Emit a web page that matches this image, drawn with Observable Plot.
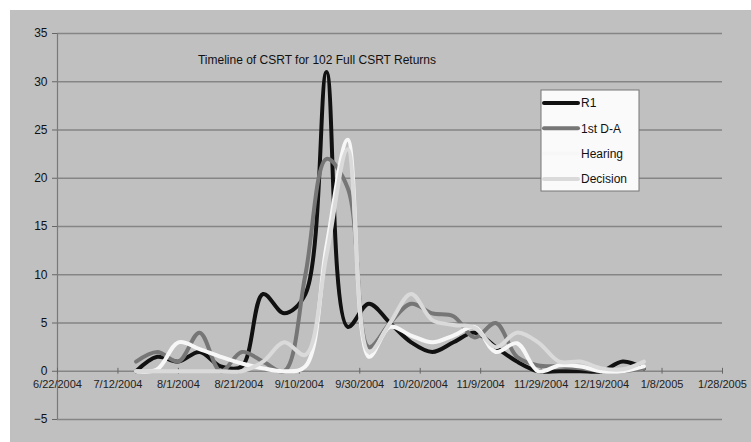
<!DOCTYPE html>
<html><head><meta charset="utf-8">
<script src="https://cdn.jsdelivr.net/npm/d3@7"></script>
<script src="https://cdn.jsdelivr.net/npm/@observablehq/plot@0.6"></script>
<style>
html,body{margin:0;padding:0;background:#fff;}
#chart{position:relative;width:751px;height:442px;}
svg{display:block;}
</style></head><body><div id="chart"></div>
<script>
const weeks = ["7/18/2004","7/25/2004","8/1/2004","8/8/2004","8/15/2004","8/22/2004","8/29/2004","9/5/2004","9/12/2004","9/19/2004","9/26/2004","10/3/2004","10/10/2004","10/17/2004","10/24/2004","10/31/2004","11/7/2004","11/14/2004","11/21/2004","11/28/2004","12/5/2004","12/12/2004","12/19/2004","12/26/2004","1/2/2005"];
const r1       = [0, 1.5, 1, 2, 0.5, 0.5, 8, 6, 8, 31, 4.6, 7, 5, 3, 2, 3, 4, 2.5, 1, 0, 0, 0, 0, 1, 0.3];
const firstDA  = [1, 2, 1, 4, 0, 2, 1, 0, 10, 22, 19, 2.5, 5, 7, 6, 5.7, 3.5, 5, 1.5, 0.6, 0.5, 0.3, 0, 0, 0.3];
const hearing  = [0, 0.2, 3, 2.3, 1.5, 0.8, 0.3, 0, 0.5, 13, 24, 1.5, 4.6, 3.7, 3, 3.7, 4.6, 2, 2.9, 0, 0.6, 0.5, 0, 0, 0.5];
const decision = [0, 0, 0, 0, 0, 0, 1, 3, 1.7, 12, 23, 2, 5, 8, 5.3, 4.8, 4.5, 2.5, 4, 3, 1, 1, 0.3, 0.2, 1];
const seriesNames = ["R1", "1st D-A", "Hearing", "Decision"];
const seriesColors = ["#111111", "#767676", "#f7f7f7", "#dadada"];
const xTickLabels = ["6/22/2004","7/12/2004","8/1/2004","8/21/2004","9/10/2004","9/30/2004","10/20/2004","11/9/2004","11/29/2004","12/19/2004","1/8/2005","1/28/2005"];
const yTicks = [-5, 0, 5, 10, 15, 20, 25, 30, 35];
const title = "Timeline of CSRT for 102 Full CSRT Returns";

const parse = d3.utcParse("%m/%d/%Y");
const fmt = d3.utcFormat("%-m/%-d/%Y");
const seriesValues = [r1, firstDA, hearing, decision];
const data = [];
seriesNames.forEach((name, i) => {
  weeks.forEach((w, j) => data.push({series: name, date: parse(w), value: seriesValues[i][j]}));
});
const xTicks = xTickLabels.map(parse);

const plot = Plot.plot({
  width: 751,
  height: 442,
  marginLeft: 57,
  marginRight: 29,
  marginTop: 33,
  marginBottom: 23,
  style: {background: "transparent", fontFamily: "'Liberation Sans', Arial, sans-serif", color: "#111"},
  x: {type: "utc", domain: [xTicks[0], xTicks[xTicks.length - 1]], axis: null},
  y: {domain: [-5, 35]},
  color: {domain: seriesNames, range: seriesColors},
  marks: [
    Plot.ruleY(yTicks, {stroke: "#858585", strokeWidth: 1.4}),
    Plot.ruleX([xTicks[0]], {y1: -5, y2: 35, stroke: "#7a7a7a", strokeWidth: 1.2}),
    Plot.axisY({ticks: yTicks, tickSize: 5, tickPadding: 5, fontSize: 12, label: null, stroke: "#666"}),
    Plot.ruleX(xTicks, {y1: -0.3, y2: 0.3, stroke: "#666"}),
    Plot.text(xTicks, {x: d => d, y: 0, dy: 13, text: d => fmt(d), fontSize: 11, fill: "#222"}),
    Plot.line(data, {x: "date", y: "value", z: "series", stroke: "series", strokeWidth: 4, curve: "catmull-rom", strokeLinejoin: "round", strokeLinecap: "round"}),
    Plot.text([title], {frameAnchor: "top", dx: -73, dy: 22, fontSize: 12, fill: "#111"})
  ]
});

const svg = d3.select(plot);
svg.insert("rect", ":first-child")
  .attr("x", 10).attr("y", 10).attr("width", 741).attr("height", 432)
  .attr("fill", "#c0c0c0");

// legend
const lg = svg.append("g")
  .attr("font-family", "'Liberation Sans', Arial, sans-serif")
  .attr("text-anchor", "start");
lg.append("rect").attr("x", 541).attr("y", 90).attr("width", 98).attr("height", 101)
  .attr("fill", "#fafafa").attr("stroke", "#777").attr("stroke-width", 1);
seriesNames.forEach((name, i) => {
  const cy = 103 + i * 25.3;
  lg.append("line").attr("x1", 544).attr("x2", 578).attr("y1", cy).attr("y2", cy)
    .attr("stroke", seriesColors[i]).attr("stroke-width", 4).attr("stroke-linecap", "round");
  lg.append("text").attr("x", 581).attr("y", cy).attr("dy", "0.35em")
    .attr("text-anchor", "start")
    .attr("font-size", 12).attr("fill", "#111").text(name);
});

document.getElementById("chart").appendChild(plot);
</script></body></html>
